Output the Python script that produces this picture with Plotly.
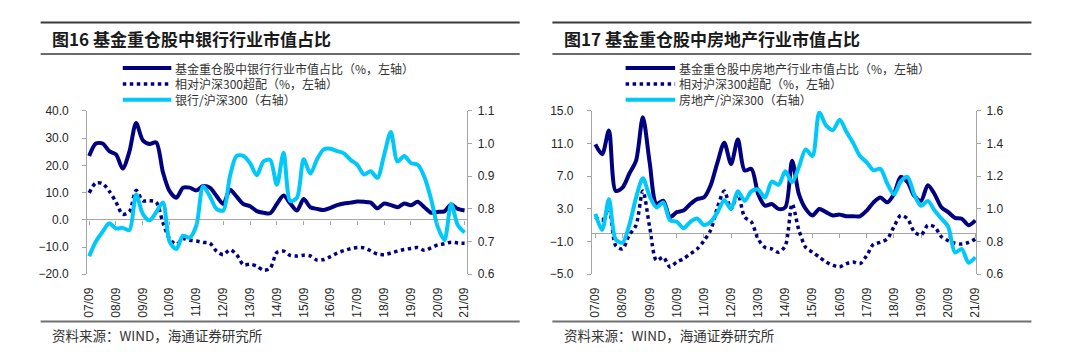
import plotly.graph_objects as go

# ---------------- data (quarterly, 2007Q3 .. 2021Q3) ----------------
tick_labels = ["07/09", "08/09", "09/09", "10/09", "11/09", "12/09", "13/09", "14/09",
               "15/09", "16/09", "17/09", "18/09", "19/09", "20/09", "21/09"]

bank_share = [23.4, 28.0, 28.0, 25.2, 24.0, 18.8, 25.0, 35.5, 29.2, 27.8, 28.4, 17.5, 10.5, 8.1,
              11.8, 11.8, 10.8, 12.4, 11.8, 8.7, 5.8, 11.0, 8.5, 5.8, 5.0, 3.2, 2.6, 2.4, 5.8,
              8.9, 6.0, 3.4, 7.6, 4.6, 4.0, 3.6, 4.4, 5.4, 6.0, 6.3, 6.7, 6.6, 6.3, 4.2, 6.0,
              5.4, 4.6, 6.0, 5.3, 6.6, 4.6, 2.6, 2.9, 3.1, 5.6, 4.0, 3.4]
bank_over = [9.9, 13.5, 13.3, 10.5, 6.5, 2.0, 3.0, 10.8, 7.0, 7.0, 6.5, -1.0, -7.0, -9.0,
             -7.0, -7.5, -7.8, -8.3, -8.6, -11.5, -12.8, -11.0, -12.8, -16.5, -16.3, -17.0,
             -18.5, -17.8, -12.0, -11.5, -13.1, -13.3, -13.0, -13.3, -14.8, -14.6, -13.5,
             -12.2, -11.3, -10.6, -10.2, -10.3, -11.4, -12.6, -12.8, -12.2, -11.5, -10.9,
             -10.5, -10.2, -11.2, -10.3, -9.2, -8.8, -8.2, -8.5, -8.6]
bank_rel = [0.655, 0.700, 0.730, 0.756, 0.740, 0.742, 0.735, 0.844, 0.785, 0.765, 0.790,
            0.820, 0.700, 0.677, 0.718, 0.712, 0.750, 0.869, 0.839, 0.800, 0.795, 0.900,
            0.962, 0.962, 0.940, 0.903, 0.945, 0.950, 0.874, 0.972, 0.824, 0.834, 0.952,
            0.908, 0.952, 0.982, 0.984, 0.977, 0.970, 0.950, 0.935, 0.905, 0.915, 0.895,
            0.965, 1.035, 0.945, 0.962, 0.940, 0.935, 0.898, 0.830, 0.745, 0.705, 0.815,
            0.750, 0.728]

re_share = [10.9, 9.7, 12.6, 5.2, 5.6, 7.3, 8.9, 14.2, 8.7, 3.6, 4.0, 2.0, 2.6, 2.8, 3.6,
            4.2, 4.4, 5.9, 8.7, 11.1, 8.5, 11.5, 7.7, 7.9, 4.8, 3.4, 3.6, 3.0, 3.2, 8.9, 4.8,
            3.0, 2.2, 3.0, 2.6, 2.2, 2.3, 2.1, 2.1, 2.1, 2.8, 3.8, 4.4, 3.8, 4.8, 6.9, 6.3,
            4.6, 4.0, 5.9, 4.8, 3.2, 2.6, 1.9, 1.8, 1.0, 1.6]
re_over = [2.0, 1.6, 3.0, -1.5, -1.9, -0.2, 1.0, 5.2, 0.8, -3.3, -2.9, -4.1, -3.5, -3.1,
           -2.5, -1.9, -0.9, 0.4, 3.2, 5.2, 3.0, 4.8, 2.0, 1.4, -0.7, -1.7, -1.9, -2.3,
           -1.5, 3.6, 0.4, -1.7, -2.3, -2.9, -3.5, -3.9, -4.1, -3.7, -3.5, -3.7, -2.7,
           -1.3, -1.1, -0.7, 0.8, 2.2, 1.8, 0.2, -0.2, 1.0, 0.8, -0.4, -0.9, -1.2, -1.3,
           -1.1, -0.7]
re_rel = [0.970, 0.872, 1.059, 0.813, 0.793, 0.901, 1.069, 1.187, 1.078, 1.009, 1.039,
          0.931, 0.921, 0.882, 0.921, 0.941, 0.901, 0.921, 0.980, 1.053, 1.000, 1.108,
          1.049, 1.108, 1.118, 1.069, 1.167, 1.147, 1.230, 1.163, 1.256, 1.364, 1.324,
          1.590, 1.511, 1.482, 1.545, 1.472, 1.403, 1.324, 1.285, 1.236, 1.246, 1.157,
          1.088, 1.167, 1.196, 1.088, 1.019, 1.049, 0.990, 0.941, 0.892, 0.734, 0.754,
          0.671, 0.704]

titles = ["图16 基金重仓股中银行行业市值占比", "图17 基金重仓股中房地产行业市值占比"]
legend_names = [
    ["基金重仓股中银行行业市值占比（%，左轴）", "相对沪深300超配（%，左轴）", "银行/沪深300（右轴）"],
    ["基金重仓股中房地产行业市值占比（%，左轴）", "相对沪深300超配（%，左轴）", "房地产/沪深300（右轴）"],
]
source_text = "资料来源：WIND，海通证券研究所"

# ---------------- styling ----------------
W, H = 1080, 363
NAVY = "#000080"
CYAN = "#00C8F8"
AXIS = "#A6A6A6"
TXT = "#262626"
CJK = "Noto Sans CJK SC"
LAT = "Liberation Sans, Arial, sans-serif"
DOT = "3.5px,3.5px"


def px(x):
    return x / W


def py(y):
    return 1 - y / H


n = len(bank_share)
xs = list(range(n))
tick_idx = list(range(0, n, 4))

panels = [
    dict(share=bank_share, over=bank_over, rel=bank_rel, dom=(83, 467), xr=[-0.3, 56.4],
         left=[-20, 40], ldt=10, right=[0.6, 1.1], rdt=0.1,
         frame=(36, 520), title_x=47, leg_x=(119, 168)),
    dict(share=re_share, over=re_over, rel=re_rel, dom=(593, 981), xr=[-0.5, 56.1],
         left=[-5, 15], ldt=4, right=[0.6, 1.6], rdt=0.2,
         frame=(553, 1037), title_x=565, leg_x=(627, 677)),
]

TOP, BOT = 108, 278
fig = go.Figure()
shapes, annotations = [], []
layout = {}

for k, p in enumerate(panels):
    xa_main = "x" if k == 0 else "x3"
    xa_tick = "x2" if k == 0 else "x4"
    ya_l = "y" if k == 0 else "y3"
    ya_r = "y2" if k == 0 else "y4"
    names = legend_names[k]

    fig.add_trace(go.Scatter(x=xs, y=p["share"], mode="lines", name=names[0],
                             line=dict(color=NAVY, width=4, shape="spline", smoothing=0.8),
                             xaxis=xa_main, yaxis=ya_l, showlegend=False))
    fig.add_trace(go.Scatter(x=xs, y=p["over"], mode="lines", name=names[1],
                             line=dict(color=NAVY, width=3.5, dash=DOT, shape="spline", smoothing=0.8),
                             xaxis=xa_main, yaxis=ya_l, showlegend=False))
    fig.add_trace(go.Scatter(x=xs, y=p["rel"], mode="lines", name=names[2],
                             line=dict(color=CYAN, width=4, shape="spline", smoothing=0.8),
                             xaxis=xa_main, yaxis=ya_r, showlegend=False))
    # helper (empty) trace so the zero-line tick axis is rendered
    fig.add_trace(go.Scatter(x=[], y=[], xaxis=xa_tick, yaxis=ya_l, showlegend=False,
                             hoverinfo="skip"))

    dom = [px(p["dom"][0]), px(p["dom"][1])]
    ydom = [py(BOT), py(TOP)]
    lo, hi = p["left"]
    zero_pos = ydom[0] + (0 - lo) / (hi - lo) * (ydom[1] - ydom[0])

    ax_common = dict(showgrid=False, zeroline=False)
    layout["xaxis" if k == 0 else "xaxis3"] = dict(
        domain=dom, anchor=ya_l, range=p["xr"], tickmode="array", tickvals=tick_idx,
        ticktext=tick_labels, tickangle=-90, ticks="", showline=False,
        tickfont=dict(family=LAT, size=12, color=TXT), ticklabelstandoff=10, **ax_common)
    layout["xaxis2" if k == 0 else "xaxis4"] = dict(
        domain=dom, overlaying=xa_main, anchor="free", position=zero_pos, range=p["xr"],
        tickmode="array", tickvals=tick_idx, ticks="outside", ticklen=4, tickcolor=AXIS,
        tickwidth=1, showticklabels=False, showline=False, **ax_common)
    layout["yaxis" if k == 0 else "yaxis3"] = dict(
        domain=ydom, anchor=xa_main, range=p["left"], tick0=lo, dtick=p["ldt"],
        tickformat=".1f", showline=True, linecolor=AXIS, linewidth=1, ticks="outside",
        ticklen=4, tickcolor=AXIS, tickfont=dict(family=LAT, size=12, color=TXT),
        ticklabelstandoff=11, showgrid=False, zeroline=True, zerolinecolor=AXIS,
        zerolinewidth=1)
    layout["yaxis2" if k == 0 else "yaxis4"] = dict(
        domain=ydom, anchor=xa_main, overlaying=ya_l, side="right", range=p["right"],
        tick0=p["right"][0], dtick=p["rdt"], tickformat=".1f", showline=True,
        linecolor=AXIS, linewidth=1, ticks="outside", ticklen=4, tickcolor=AXIS,
        tickfont=dict(family=LAT, size=12, color=TXT), ticklabelstandoff=3, **ax_common)

    # frame rules
    fx0, fx1 = px(p["frame"][0]), px(p["frame"][1])
    shapes.append(dict(type="line", xref="paper", yref="paper", x0=fx0, x1=fx1,
                       y0=py(16), y1=py(16), line=dict(color="#3A3A3A", width=2)))
    shapes.append(dict(type="line", xref="paper", yref="paper", x0=fx0, x1=fx1,
                       y0=py(49), y1=py(49), line=dict(color="#3A3A3A", width=1.5)))
    shapes.append(dict(type="line", xref="paper", yref="paper", x0=fx0, x1=fx1,
                       y0=py(327), y1=py(327), line=dict(color="#707070", width=2)))

    annotations.append(dict(text="<b>" + titles[k] + "</b>", xref="paper", yref="paper",
                            x=px(p["title_x"] - 2), y=py(33), xanchor="left", yanchor="middle",
                            showarrow=False, font=dict(family=CJK, size=17, color="#1A1A1A")))
    annotations.append(dict(text=source_text, xref="paper", yref="paper",
                            x=px(p["title_x"] - 2), y=py(341), xanchor="left", yanchor="middle",
                            showarrow=False, font=dict(family=CJK, size=13.5, color="#333333")))

    # legend (drawn manually to keep the compact Excel-style spacing)
    leg_rows = [63.5, 80, 96.5]
    leg_styles = [dict(color=NAVY, width=4), dict(color=NAVY, width=3.5, dash=DOT),
                  dict(color=CYAN, width=4)]
    for r, yy in enumerate(leg_rows):
        shapes.append(dict(type="line", xref="paper", yref="paper",
                           x0=px(p["leg_x"][0]), x1=px(p["leg_x"][1]), y0=py(yy), y1=py(yy),
                           line=leg_styles[r]))
        annotations.append(dict(text=names[r], xref="paper", yref="paper",
                                x=px(p["leg_x"][1] + 3), y=py(yy), xanchor="left",
                                yanchor="middle", showarrow=False, borderpad=0,
                                font=dict(family=CJK, size=12, color="#333333")))

fig.update_layout(
    width=W, height=H, autosize=False,
    margin=dict(l=0, r=0, t=0, b=0),
    paper_bgcolor="white", plot_bgcolor="white",
    showlegend=False, shapes=shapes, annotations=annotations,
    **layout,
)

fig.write_html("out.html", config={"displayModeBar": False},
               post_script="document.body.style.margin='0';"
                           "document.body.style.overflow='hidden';")
